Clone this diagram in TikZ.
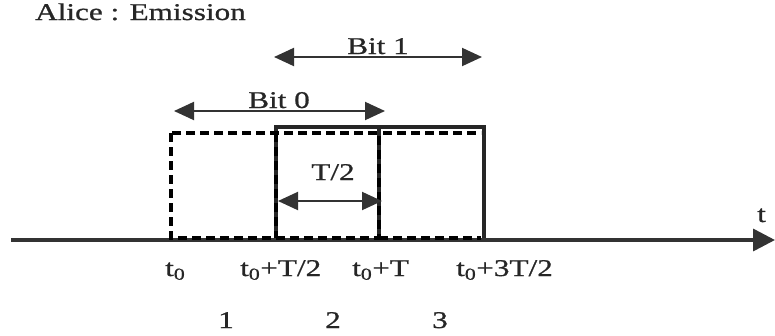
\documentclass[tikz,border=0pt]{standalone}
\usepackage{fontspec}
\setmainfont{Liberation Serif}[FakeStretch=1.3,FakeBold=0.8]
\usetikzlibrary{arrows.meta}
\begin{document}
\begin{tikzpicture}[x=1pt,y=-1pt,
  lbl/.style={inner sep=0pt, anchor=base west, font=\fontsize{24}{28}\selectfont, text=black!85},
  clbl/.style={inner sep=0pt, anchor=base, font=\fontsize{24}{28}\selectfont, text=black!85},
  dim/.style={line width=2pt, draw=black!80, {Triangle[length=20pt,width=18pt]}-{Triangle[length=20pt,width=18pt]}},
  axisline/.style={line width=3.5pt, draw=black!80, -{Triangle[length=22pt,width=22pt]}},
  solidbox/.style={line width=3.5pt, draw=black!85},
  dashbox/.style={line width=4pt, draw=black, dash pattern=on 9pt off 5pt},
]
\useasboundingbox (0,0) rectangle (775,335);

% time axis
\coordinate (ax0) at (11,240);
\coordinate (ax1) at (775,240);
\draw[axisline] (ax0) -- (ax1);
\node[lbl] (tlab) at (757,222) {t};

% pulses
\draw[solidbox] (276,238) -- (276,127) -- (484,127) -- (484,238);
\draw[solidbox] (379,127) -- (379,238);
\draw[dashbox] (171,133) rectangle (379,238);
\draw[dashbox] (276,133) -- (276,238);
\draw[dashbox] (383,133) -- (481,133);
\draw[dashbox] (379,238) -- (481,238);

% dimension arrows
\coordinate (b1a) at (274,57);
\coordinate (b1b) at (482,57);
\draw[dim] (b1a) -- (b1b);
\node[clbl] (bit1) at (378,54) {Bit 1};

\coordinate (b0a) at (174,111);
\coordinate (b0b) at (385,111);
\draw[dim] (b0a) -- (b0b);
\node[clbl] (bit0) at (279,108) {Bit 0};

\coordinate (ha) at (278,201);
\coordinate (hb) at (382,201);
\draw[dim] (ha) -- (hb);
\node[clbl] (half) at (333,180) {T/2};

% title
\node[lbl] (title) at (35,20) {Alice : Emission};

% time labels
\node[lbl] (l0) at (165,276) {t\textsubscript{0}};
\node[lbl] (l1) at (240,276) {t\textsubscript{0}+T/2};
\node[lbl] (l2) at (352,276) {t\textsubscript{0}+T};
\node[lbl] (l3) at (456,276) {t\textsubscript{0}+3T/2};

% slot numbers
\node[clbl] (n1) at (226,328) {1};
\node[clbl] (n2) at (333,328) {2};
\node[clbl] (n3) at (440,328) {3};
\end{tikzpicture}
\end{document}
